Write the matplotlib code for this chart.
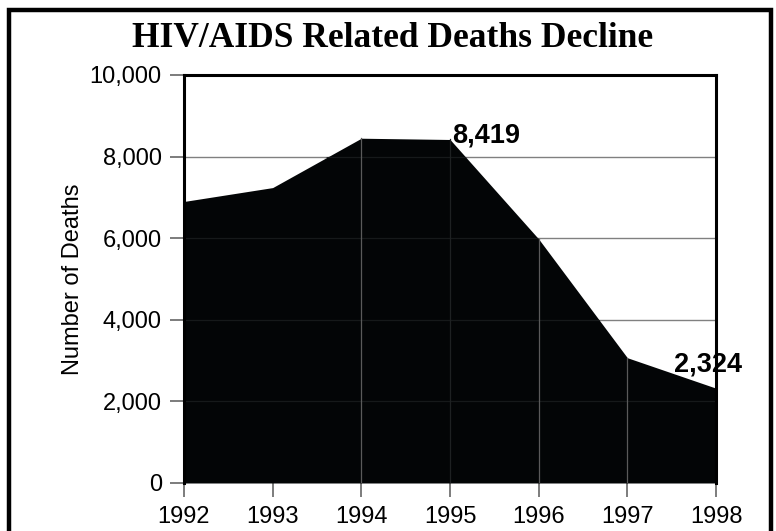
import matplotlib
matplotlib.use("Agg")
import matplotlib.pyplot as plt
from matplotlib.patches import Rectangle

# Annual HIV/AIDS related deaths
years = [1992, 1993, 1994, 1995, 1996, 1997, 1998]
deaths = [6900, 7240, 8450, 8419, 5980, 3070, 2324]
labelled = {1995: "8,419", 1998: "2,324"}
y_ticks = [0, 2000, 4000, 6000, 8000, 10000]
y_tick_labels = ["0", "2,000", "4,000", "6,000", "8,000", "10,000"]

fig = plt.figure(figsize=(7.76, 5.31), dpi=100)
ax = fig.add_axes([0.2371, 0.0904, 0.6856, 0.7684])

# horizontal gridlines behind the filled area
for v in y_ticks[1:-1]:
    ax.axhline(v, color="#808080", lw=1.0, zorder=1)

poly = ax.fill_between(years, deaths, 0, color="#030506", lw=0, zorder=2)

# faint gridlines showing through the filled area
for v in y_ticks[1:-1]:
    ln = ax.axhline(v, color="#16191a", lw=0.9, zorder=3)
    ln.set_clip_path(poly.get_paths()[0], poly.get_transform())

# faint year separators inside the area
sep_colors = {1994: "#5a5a5a", 1995: "#1e2122", 1996: "#5a5a5a", 1997: "#5a5a5a"}
for yr, d in zip(years, deaths):
    if yr in sep_colors:
        ax.plot([yr, yr], [0, d], color=sep_colors[yr], lw=0.9, zorder=3)

ax.set_xlim(years[0], years[-1])
ax.set_ylim(0, 10000)
ax.set_xticks(years)
ax.set_xticklabels([str(y) for y in years])
ax.set_yticks(y_ticks)
ax.set_yticklabels(y_tick_labels)

for lab in ax.get_xticklabels() + ax.get_yticklabels():
    lab.set_fontfamily("Liberation Sans")
    lab.set_fontsize(17)

ax.tick_params(axis="both", direction="out", length=10, width=1.2,
               color="#666666")
ax.tick_params(axis="y", pad=6)
ax.tick_params(axis="x", pad=6.5)

for side in ["top", "left", "right"]:
    ax.spines[side].set_color("black")
    ax.spines[side].set_linewidth(2.2)
    ax.spines[side].set_zorder(5)
ax.spines["bottom"].set_visible(False)

ax.set_ylabel("Number of Deaths", family="Liberation Sans", fontsize=17,
              labelpad=4)

# value labels
offsets = {1995: (1.5, 3.0), 1998: (-30.0, 17.0)}
for yr, d in zip(years, deaths):
    if yr in labelled:
        ax.annotate(labelled[yr], xy=(yr, d), xytext=offsets[yr],
                    textcoords="offset points", ha="left", va="center",
                    family="Liberation Sans", fontweight="bold", fontsize=19.5,
                    zorder=4, annotation_clip=False)

fig.text(0.506, 0.9115, "HIV/AIDS Related Deaths Decline", ha="center",
         va="baseline", family="Liberation Serif", fontweight="bold",
         fontsize=25.5)

# outer frame
fig.patches.append(Rectangle((9 / 776, -0.02), (771 - 9) / 776, (521.5) / 531 + 0.02,
                             transform=fig.transFigure, fill=False,
                             edgecolor="black", lw=3.2, zorder=10))

fig.savefig("out.png", dpi=100)
